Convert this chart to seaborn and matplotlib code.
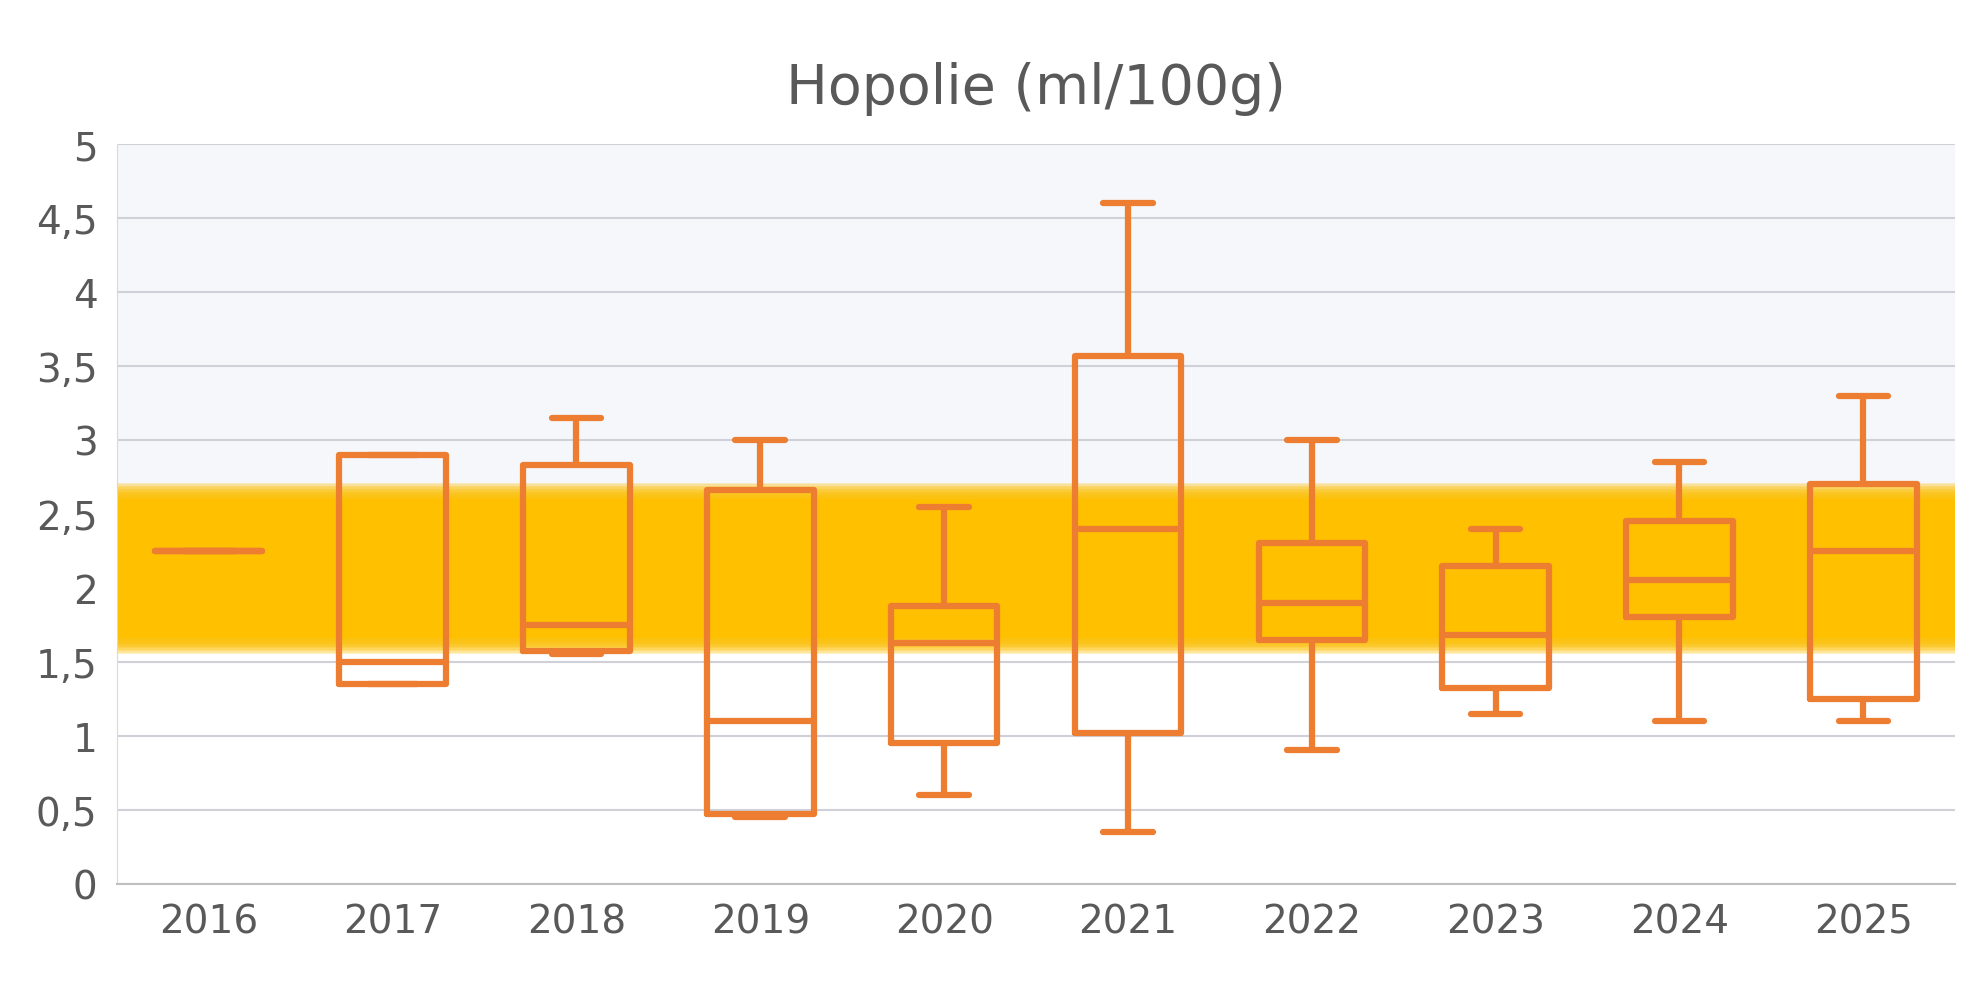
import numpy as np
import pandas as pd
import seaborn as sns
import matplotlib.pyplot as plt

years = ["2016", "2017", "2018", "2019", "2020", "2021", "2022", "2023", "2024", "2025"]
# min, q1, median, q3, max
mins = [2.25, 1.35, 1.55, 0.45, 0.60, 0.35, 0.90, 1.15, 1.10, 1.10]
q1s = [2.25, 1.35, 1.57, 0.47, 0.95, 1.02, 1.65, 1.32, 1.80, 1.25]
medians = [2.25, 1.50, 1.75, 1.10, 1.63, 2.40, 1.90, 1.68, 2.05, 2.25]
q3s = [2.25, 2.90, 2.83, 2.66, 1.88, 3.57, 2.30, 2.15, 2.45, 2.70]
maxs = [2.25, 2.90, 3.15, 3.00, 2.55, 4.60, 3.00, 2.40, 2.85, 3.30]

rows = []
for y, a, b, c, d, e in zip(years, mins, q1s, medians, q3s, maxs):
    for v in (a, b, c, d, e):
        rows.append({"Year": y, "Value": v})
df = pd.DataFrame(rows)

sns.set_style("white")
plt.rcParams["font.family"] = ["DejaVu Sans"]
orange = "#ED7D31"
grey = "#595959"

fig = plt.figure(figsize=(19.81, 9.95), dpi=100)
ax = fig.add_axes([0.059, 0.111, 0.928, 0.743])

# background zones
ax.axhspan(1.6, 5, color="#F5F7FB", zorder=0, lw=0)
for i in range(10):
    off = i * 0.01
    ax.axhspan(1.64 - off, 2.62 + off, color="#FFC000", alpha=0.22, zorder=0.5, lw=0)
ax.axhspan(1.66, 2.6, color="#FFC000", zorder=0.6, lw=0)

sns.boxplot(data=df, x="Year", y="Value", whis=(0, 100), width=0.58, fill=False,
            color=orange, linewidth=4.5, showfliers=False, ax=ax,
            boxprops=dict(zorder=3), medianprops=dict(color=orange),
            whiskerprops=dict(color=orange), capprops=dict(color=orange),
            capwidths=0.27)

ax.set_ylim(0, 5)
ax.set_yticks(np.arange(0, 5.01, 0.5))
ax.set_yticklabels([f"{t:g}".replace(".", ",") for t in np.arange(0, 5.01, 0.5)])
ax.yaxis.grid(True, color="#D0D0D8", linewidth=1.5, zorder=1)
ax.set_axisbelow(True)
for s in ["top", "right"]:
    ax.spines[s].set_visible(False)
ax.spines["left"].set_color("#D9D9D9")
ax.spines["bottom"].set_color("#BFBFBF")
ax.spines["bottom"].set_linewidth(1.5)
ax.tick_params(axis="both", labelsize=28, colors=grey, length=0, pad=14)
ax.set_xlabel("")
ax.set_ylabel("")
ax.set_title("Hopolie (ml/100g)", fontsize=40, color=grey, pad=30)

fig.savefig("out.png", dpi=100)
